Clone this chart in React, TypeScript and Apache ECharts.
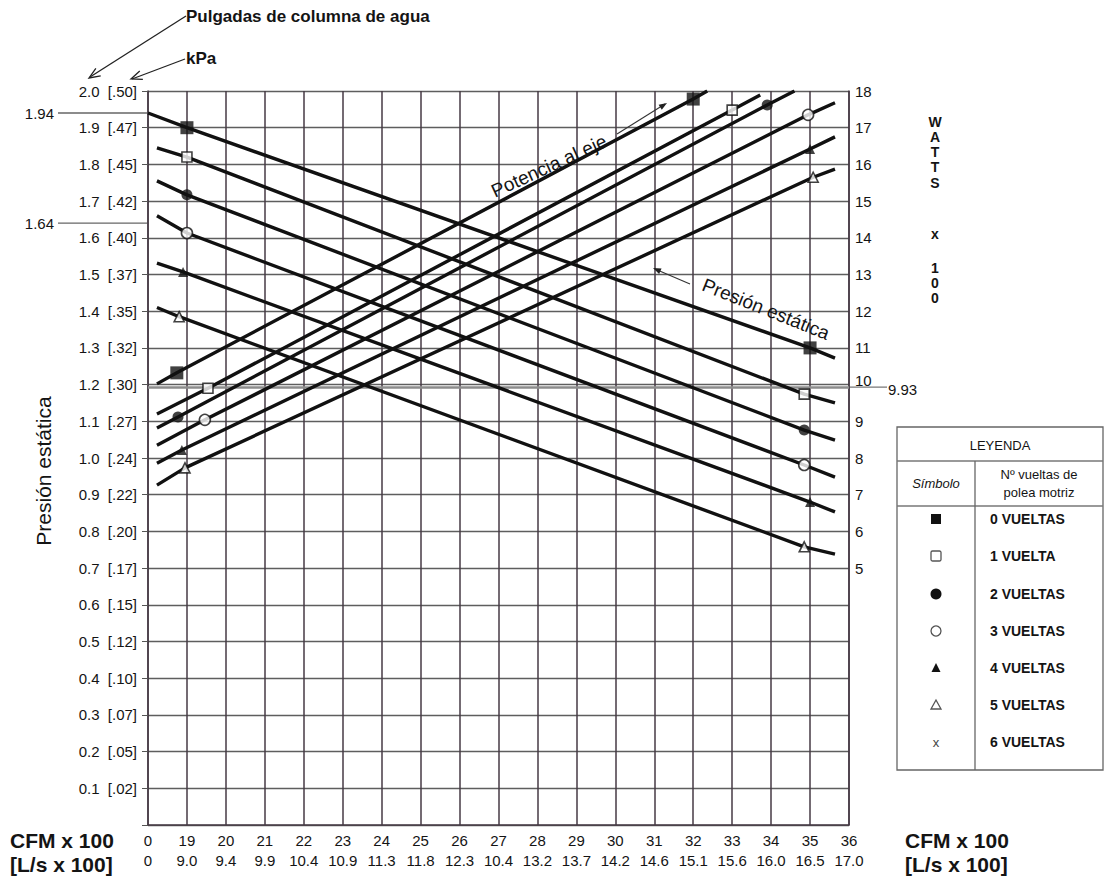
import React, { useEffect, useRef } from "react";
import * as echarts from "echarts";

const FONT = '"Liberation Sans", Arial, Helvetica, sans-serif';

// X axis (CFM x 100); position 18 is the "0" origin of the broken axis
const cfmLabels = ["0", "19", "20", "21", "22", "23", "24", "25", "26", "27", "28", "29", "30", "31", "32", "33", "34", "35", "36"];
const lsLabels = ["0", "9.0", "9.4", "9.9", "10.4", "10.9", "11.3", "11.8", "12.3", "10.4", "13.2", "13.7", "14.2", "14.6", "15.1", "15.6", "16.0", "16.5", "17.0"];
// Left axis (inches of water column [kPa])
const inchLabels = ["0.1", "0.2", "0.3", "0.4", "0.5", "0.6", "0.7", "0.8", "0.9", "1.0", "1.1", "1.2", "1.3", "1.4", "1.5", "1.6", "1.7", "1.8", "1.9", "2.0"];
const kpaLabels = [".02", ".05", ".07", ".10", ".12", ".15", ".17", ".20", ".22", ".24", ".27", ".30", ".32", ".35", ".37", ".40", ".42", ".45", ".47", ".50"];
const wattsLabelMin = 5;

// Presión estática lines [CFM x100, in. w.c.] : start, marker, marker, end
const estatica0 = [[18, 1.94], [19, 1.9], [35, 1.3], [35.64, 1.272]];
const estatica1 = [[18.23, 1.845], [19, 1.82], [34.85, 1.174], [35.64, 1.15]];
const estatica2 = [[18.23, 1.755], [19, 1.717], [34.85, 1.076], [35.64, 1.049]];
const estatica3 = [[18.23, 1.66], [19, 1.613], [34.85, 0.981], [35.64, 0.948]];
const estatica4 = [[18.23, 1.531], [18.9, 1.507], [35, 0.88], [35.64, 0.853]];
const estatica5 = [[18.23, 1.41], [18.8, 1.385], [34.85, 0.758], [35.64, 0.738]];

// Potencia al eje lines [CFM x100, Watts x100] : start, marker, marker, end
const potencia0 = [[18.23, 10.02], [18.74, 10.32], [32.0, 17.78], [32.36, 18.0]];
const potencia1 = [[18.23, 9.2], [19.54, 9.9], [33.0, 17.48], [33.72, 17.89]];
const potencia2 = [[18.23, 8.82], [18.77, 9.12], [33.9, 17.62], [34.6, 18.0]];
const potencia3 = [[18.23, 8.35], [19.46, 9.04], [34.95, 17.35], [35.64, 17.68]];
const potencia4 = [[18.23, 7.86], [18.87, 8.22], [35.0, 16.42], [35.64, 16.75]];
const potencia5 = [[18.23, 7.26], [18.95, 7.73], [35.08, 15.65], [35.64, 15.87]];

const markerSymbol = ["rect", "rect", "circle", "circle", "triangle", "triangle"];
const markerFilled = [true, false, true, false, true, false];
const markerSize = [13, 10, 11, 11, 10, 10];

const legendLabels = ["0 VUELTAS", "1 VUELTA", "2 VUELTAS", "3 VUELTAS", "4 VUELTAS", "5 VUELTAS", "6 VUELTAS"];

const refInches = [1.94, 1.64];
const refWatts = 9.93;

const estatica = [estatica0, estatica1, estatica2, estatica3, estatica4, estatica5];
const potencia = [potencia0, potencia1, potencia2, potencia3, potencia4, potencia5];

function buildSeries() {
  const series: any[] = [];
  const add = (pts: number[][], k: number, yIdx: number, extra: any = {}) => {
    series.push({
      type: "line",
      yAxisIndex: yIdx,
      data: pts,
      symbol: "none",
      silent: true,
      lineStyle: { color: "#111", width: 3.4 },
      z: 3,
      ...extra,
    });
    series.push({
      type: "scatter",
      yAxisIndex: yIdx,
      data: [pts[1], pts[2]],
      symbol: markerSymbol[k],
      symbolSize: markerSize[k],
      silent: true,
      itemStyle: markerFilled[k]
        ? { color: "#111" }
        : { color: "#fff", borderColor: "#111", borderWidth: 1.6 },
      z: 4,
    });
  };
  estatica.forEach((pts, k) => add(pts, k, 0));
  potencia.forEach((pts, k) =>
    add(
      pts,
      k,
      1,
      k === 0
        ? {
            markLine: {
              silent: true,
              symbol: "none",
              label: { show: false },
              lineStyle: { color: "#8c8c8c", width: 2.6, type: "solid" },
              data: [{ yAxis: refWatts }],
              z: 2,
            },
          }
        : {}
    )
  );
  return series;
}

function arrowV(tx: number, ty: number, fx: number, fy: number, len = 10, half = 4) {
  const dx = tx - fx, dy = ty - fy;
  const d = Math.sqrt(dx * dx + dy * dy);
  const ux = dx / d, uy = dy / d;
  const bx = tx - ux * len, by = ty - uy * len;
  return [
    [bx - uy * half, by + ux * half],
    [tx, ty],
    [bx + uy * half, by - ux * half],
  ];
}

function txt(x: number, y: number, text: string, size: number, opts: any = {}) {
  return {
    type: "text",
    x,
    y,
    silent: true,
    rotation: opts.rotation || 0,
    style: {
      text,
      fill: opts.fill || "#141414",
      fontSize: size,
      fontFamily: FONT,
      fontWeight: opts.weight || "normal",
      fontStyle: opts.italic ? "italic" : "normal",
      align: opts.align || "left",
      textAlign: opts.align || "left",
      verticalAlign: "middle",
      textVerticalAlign: "middle",
      lineHeight: opts.lineHeight,
    },
  };
}

function ln(x1: number, y1: number, x2: number, y2: number, stroke = "#555", w = 1.2) {
  return { type: "line", silent: true, shape: { x1, y1, x2, y2 }, style: { stroke, lineWidth: w } };
}

export default function App() {
  const ref = useRef<HTMLDivElement>(null);
  useEffect(() => {
    document.body.style.margin = "0";
    const chart = echarts.init(ref.current!, null, { renderer: "svg" });
    const option: any = {
      animation: false,
      backgroundColor: "#fff",
      grid: { left: 148, top: 91, width: 701, height: 734 },
      xAxis: {
        type: "value",
        min: 18,
        max: 36,
        interval: 1,
        axisLine: { show: true, onZero: false, lineStyle: { color: "#463a44", width: 1.5 } },
        axisTick: { show: false },
        axisLabel: {
          margin: 5,
          color: "#141414",
          fontSize: 15,
          fontFamily: FONT,
          lineHeight: 20,
          formatter: (v: number) => {
            const i = Math.round(v) - 18;
            return `${cfmLabels[i]}\n${lsLabels[i]}`;
          },
        },
        splitLine: { show: true, lineStyle: { color: "#463a44", width: 1.5 } },
      },
      yAxis: [
        {
          type: "value",
          min: 0,
          max: 2,
          interval: 0.1,
          axisLine: { show: true, lineStyle: { color: "#463a44", width: 1.5 } },
          axisTick: { show: true, length: 6, lineStyle: { color: "#555" } },
          axisLabel: {
            margin: 11,
            color: "#141414",
            fontSize: 15,
            fontFamily: FONT,
            formatter: (v: number) => {
              const i = Math.round(v * 10);
              return i === 0 ? "" : `${inchLabels[i - 1]}  [${kpaLabels[i - 1]}]`;
            },
          },
          splitLine: { show: true, lineStyle: { color: "#5e5e5e", width: 1.3 } },
        },
        {
          type: "value",
          position: "right",
          min: -2,
          max: 18,
          interval: 1,
          axisLine: { show: true, lineStyle: { color: "#463a44", width: 1.5 } },
          axisTick: { show: false },
          axisLabel: {
            margin: 6,
            color: "#141414",
            fontSize: 15,
            fontFamily: FONT,
            formatter: (v: number) => (v === 10 ? "{r|10}" : v >= wattsLabelMin ? String(v) : ""),
            rich: { r: { fontSize: 15, fontFamily: FONT, color: "#141414", padding: [0, 0, 8, 0] } },
          },
          splitLine: { show: false },
        },
      ],
      series: buildSeries(),
    };
    chart.setOption(option);

    const xL = chart.convertToPixel({ xAxisIndex: 0 }, 18) as number;
    const xR = chart.convertToPixel({ xAxisIndex: 0 }, 36) as number;
    const yW = chart.convertToPixel({ yAxisIndex: 1 }, refWatts) as number;

    const els: any[] = [];
    // Top unit labels with arrows
    els.push(txt(186, 16, "Pulgadas de columna de agua", 17, { weight: "bold" }));
    els.push(ln(186, 16, 90, 77, "#222", 1.3));
    els.push({ type: "polyline", silent: true, shape: { points: arrowV(89, 78, 186, 16, 11, 4.5) }, style: { stroke: "#222", lineWidth: 1.3, fill: null } });
    els.push(txt(186, 58, "kPa", 17, { weight: "bold" }));
    els.push(ln(185, 59, 132, 79, "#222", 1.3));
    els.push({ type: "polyline", silent: true, shape: { points: arrowV(131, 79, 185, 59, 11, 4.5) }, style: { stroke: "#222", lineWidth: 1.3, fill: null } });

    // reference levels on the left
    refInches.forEach((v) => {
      const y = chart.convertToPixel({ yAxisIndex: 0 }, v) as number;
      els.push(ln(58, y, xL, y, "#666", 1.3));
      els.push(txt(54, y, v.toFixed(2), 15, { align: "right" }));
    });
    // 9.93 on the right
    els.push(ln(xR, yW, xR + 38, yW, "#777", 1.4));
    els.push(txt(xR + 39, yW + 2, refWatts.toFixed(2), 15));

    // Axis titles
    els.push(txt(43, 471, "Presión estática", 21, { rotation: Math.PI / 2, align: "center" }));
    els.push(txt(10, 840, "CFM x 100", 21, { weight: "bold" }));
    els.push(txt(10, 864, "[L/s x 100]", 21, { weight: "bold" }));
    els.push(txt(905, 840, "CFM x 100", 21, { weight: "bold" }));
    els.push(txt(905, 864, "[L/s x 100]", 21, { weight: "bold" }));

    const wattsLetters = ["W", "A", "T", "T", "S", "x", "1", "0", "0"];
    const wattsY = [122, 137, 152, 167, 183, 234, 268, 283, 298];
    wattsLetters.forEach((c, i) => els.push(txt(935, wattsY[i], c, 14, { weight: "bold", align: "center" })));

    // in-chart annotations
    els.push(txt(549, 166, "Potencia al eje", 19, { rotation: 0.43, align: "center" }));
    els.push(ln(617, 134, 665, 104, "#333", 1.1));
    els.push({ type: "polygon", silent: true, shape: { points: arrowV(667, 103, 617, 134, 8, 3) }, style: { fill: "#222" } });
    els.push(txt(766, 309, "Presión estática", 19, { rotation: -0.38, align: "center" }));
    els.push(ln(690, 284, 655, 269, "#333", 1.1));
    els.push({ type: "polygon", silent: true, shape: { points: arrowV(653, 268, 690, 284, 8, 3) }, style: { fill: "#222" } });

    // Legend table
    const tL = 897, tR = 1103, tT = 427, tB = 770, colX = 975, h1 = 461, h2 = 506;
    els.push({ type: "rect", silent: true, shape: { x: tL, y: tT, width: tR - tL, height: tB - tT }, style: { fill: "#fff", stroke: "#666", lineWidth: 1.3 } });
    els.push(ln(tL, h1, tR, h1, "#777", 1.3));
    els.push(ln(tL, h2, tR, h2, "#777", 1.3));
    els.push(ln(colX, h1, colX, tB, "#666", 1.3));
    els.push(txt((tL + tR) / 2, 445, "LEYENDA", 13, { align: "center" }));
    els.push(txt(936, 483, "Símbolo", 13, { italic: true, align: "center" }));
    els.push(txt(1039, 474, "Nº vueltas de", 13, { align: "center" }));
    els.push(txt(1039, 492, "polea motriz", 13, { align: "center" }));
    const rowY = [519, 556, 594, 631, 668, 705, 742];
    const sx = 936;
    legendLabels.forEach((lab, i) => els.push(txt(990, rowY[i], lab, 14, { weight: "bold" })));
    els.push({ type: "rect", silent: true, shape: { x: sx - 5, y: rowY[0] - 5, width: 10, height: 10 }, style: { fill: "#111" } });
    els.push({ type: "rect", silent: true, shape: { x: sx - 5, y: rowY[1] - 5, width: 10, height: 10, r: 1.5 }, style: { fill: "#fff", stroke: "#555", lineWidth: 1.3 } });
    els.push({ type: "circle", silent: true, shape: { cx: sx, cy: rowY[2], r: 5.5 }, style: { fill: "#111" } });
    els.push({ type: "circle", silent: true, shape: { cx: sx, cy: rowY[3], r: 5 }, style: { fill: "#fff", stroke: "#555", lineWidth: 1.3 } });
    els.push({ type: "polygon", silent: true, shape: { points: [[sx, rowY[4] - 5], [sx - 4.5, rowY[4] + 4], [sx + 4.5, rowY[4] + 4]] }, style: { fill: "#111" } });
    els.push({ type: "polygon", silent: true, shape: { points: [[sx, rowY[5] - 5], [sx - 5, rowY[5] + 4], [sx + 5, rowY[5] + 4]] }, style: { fill: "#fff", stroke: "#555", lineWidth: 1.3 } });
    els.push(txt(sx, rowY[6], "x", 13, { align: "center", fill: "#444" }));

    chart.setOption({ graphic: els });
    return () => chart.dispose();
  }, []);
  return <div ref={ref} style={{ width: 1105, height: 879 }} />;
}
